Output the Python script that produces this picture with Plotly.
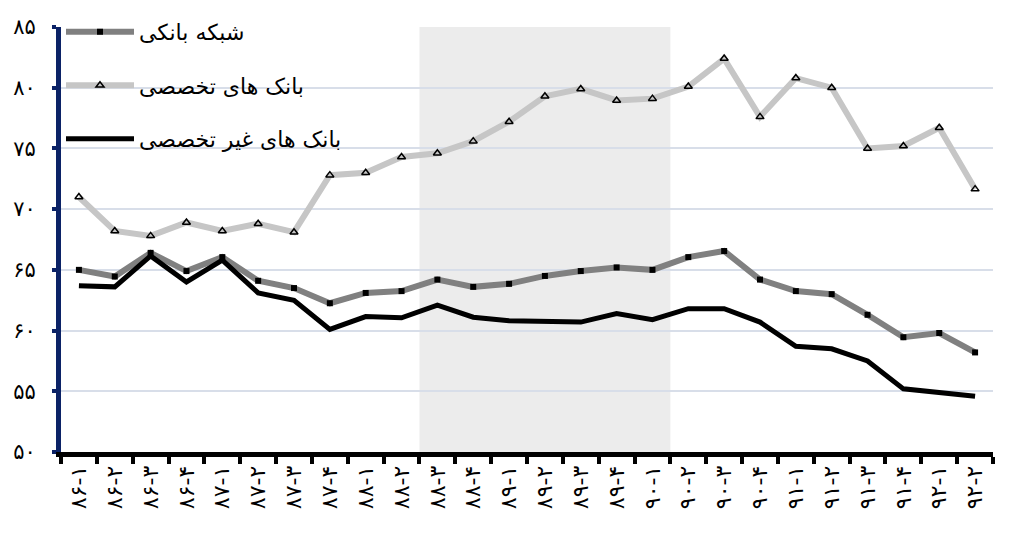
import plotly.graph_objects as go

categories = ["۸۶-۱", "۸۶-۲", "۸۶-۳", "۸۶-۴", "۸۷-۱", "۸۷-۲", "۸۷-۳", "۸۷-۴",
              "۸۸-۱", "۸۸-۲", "۸۸-۳", "۸۸-۴", "۸۹-۱", "۸۹-۲", "۸۹-۳", "۸۹-۴",
              "۹۰-۱", "۹۰-۲", "۹۰-۳", "۹۰-۴", "۹۱-۱", "۹۱-۲", "۹۱-۳", "۹۱-۴",
              "۹۲-۱", "۹۲-۲"]

banking_network = [65.0, 64.45, 66.4, 64.9, 66.05, 64.1, 63.5, 62.25, 63.1, 63.25,
                   64.2, 63.6, 63.85, 64.5, 64.9, 65.2, 65.0, 66.05, 66.55, 64.2,
                   63.25, 63.0, 61.3, 59.45, 59.8, 58.2]
specialized = [71.0, 68.2, 67.8, 68.9, 68.2, 68.8, 68.1, 72.8, 73.0, 74.3,
               74.6, 75.6, 77.2, 79.3, 79.9, 78.95, 79.1, 80.1, 82.4, 77.6,
               80.8, 80.0, 75.0, 75.2, 76.7, 71.65]
non_specialized = [63.7, 63.6, 66.15, 64.0, 65.8, 63.1, 62.5, 60.1, 61.15, 61.05,
                   62.1, 61.1, 60.8, 60.75, 60.7, 61.4, 60.9, 61.8, 61.8, 60.7,
                   58.7, 58.5, 57.5, 55.2, 54.9, 54.6]

names = ["شبکه بانکی", "بانک های تخصصی", "بانک های غیر تخصصی"]
y_tickvals = [50, 55, 60, 65, 70, 75, 80, 85]
y_ticktext = ["۵۰", "۵۵", "۶۰", "۶۵", "۷۰", "۷۵", "۸۰", "۸۵"]
shade_from, shade_to = "۸۸-۳", "۹۰-۱"

fa_font = "DejaVu Sans"

fig = go.Figure()

fig.add_trace(go.Scatter(
    x=categories, y=banking_network, name=names[0], mode="lines+markers",
    legendgroup="a",
    line=dict(color="#808080", width=6),
    marker=dict(symbol="square", size=6, color="black", line=dict(width=0)),
))
fig.add_trace(go.Scatter(
    x=categories, y=specialized, name=names[1], mode="lines+markers",
    legendgroup="b",
    line=dict(color="#c6c6c6", width=6),
    marker=dict(symbol="triangle-up-open", size=7, color="black", line=dict(width=1.5, color="black")),
))
fig.add_trace(go.Scatter(
    x=categories, y=non_specialized, name=names[2], mode="lines",
    legendgroup="c",
    line=dict(color="black", width=5),
))

i0 = categories.index(shade_from) - 0.5
i1 = categories.index(shade_to) + 0.5
fig.add_shape(type="rect", xref="x", yref="y", x0=i0, x1=i1, y0=50, y1=85,
              fillcolor="#ececec", line=dict(width=0), layer="below")

fig.update_layout(
    width=1019, height=536,
    margin=dict(l=53, r=34, t=19, b=92, autoexpand=False),
    plot_bgcolor="white", paper_bgcolor="white",
    font=dict(family=fa_font, color="black"),
    showlegend=True,
    legend=dict(
        x=0.0, y=1.038, xanchor="left", yanchor="top",
        bgcolor="rgba(0,0,0,0)", font=dict(size=22, family=fa_font),
        itemwidth=68, tracegroupgap=22,
    ),
    xaxis=dict(
        type="category", range=[-0.5, len(categories) - 0.5],
        tickangle=-90, tickfont=dict(size=22, family=fa_font),
        showline=True, linecolor="black", linewidth=5,
        ticks="outside", tickson="boundaries", ticklen=7, tickwidth=4, tickcolor="black",
        showgrid=False, zeroline=False, automargin=False,
    ),
    yaxis=dict(
        range=[50, 85], tickvals=y_tickvals, ticktext=y_ticktext,
        tickfont=dict(size=21, family=fa_font),
        showline=True, linecolor="#0b2266", linewidth=5,
        ticks="outside", ticklen=4, tickwidth=4, tickcolor="#0b2266",
        ticklabelstandoff=12,
        showgrid=True, gridcolor="#d8dee9", gridwidth=1.5,
        zeroline=False, automargin=False,
    ),
)

fig.write_html("out.html")
